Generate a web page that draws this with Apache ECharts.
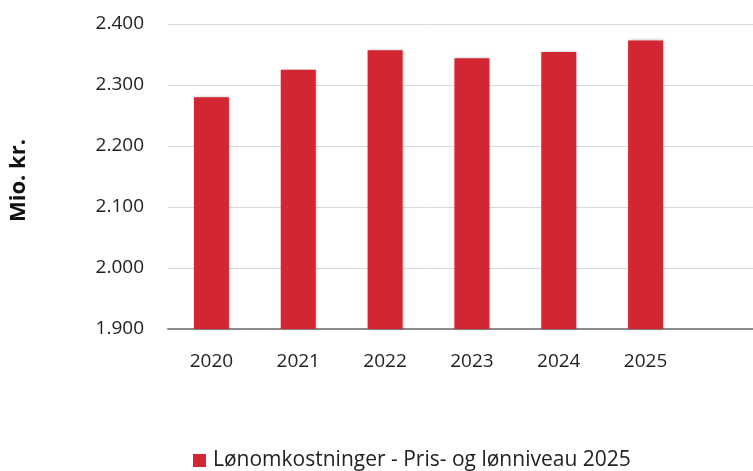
<!DOCTYPE html>
<html>
<head>
<meta charset="utf-8">
<script src="https://cdn.jsdelivr.net/npm/echarts@6/dist/echarts.min.js"></script>
<style>
  html, body { margin: 0; padding: 0; background: #fff; }
  #main { width: 753px; height: 471px; }
</style>
</head>
<body>
<div id="main"></div>
<script>
  var years = ['2020', '2021', '2022', '2023', '2024', '2025']
  var loenValues = [2280, 2325, 2357, 2344, 2354, 2373]
  var seriesName = 'Lønomkostninger - Pris- og lønniveau 2025'
  var yTitle = 'Mio. kr.'

  var fontFamily = '"Open Sans", "Noto Sans", sans-serif'

  function fmt(v) {
    return String(v).replace(/\B(?=(\d{3})+(?!\d))/g, '.')
  }

  var chart = echarts.init(document.getElementById('main'))

  var yCommon = {
    type: 'value',
    min: 1900,
    max: 2400,
    interval: 100,
    splitLine: { show: true, lineStyle: { color: '#d9d9d9', width: 1 } },
    axisLine: { show: false },
    axisTick: { show: false }
  }

  chart.setOption({
    animation: false,
    grid: [
      { left: 168, right: 64, top: 24, bottom: 142, outerBoundsMode: 'none' },
      { left: 689, right: 0, top: 24, bottom: 142, outerBoundsMode: 'none' }
    ],
    legend: {
      top: 450,
      left: 193,
      padding: 0,
      itemWidth: 13,
      itemHeight: 13,
      itemGap: 10,
      icon: 'rect',
      textStyle: { fontFamily: fontFamily, fontSize: 21, color: '#222', padding: [0, 0, 0, 2] },
      data: [seriesName]
    },
    xAxis: [
      {
        type: 'category',
        gridIndex: 0,
        data: years,
        axisLine: { lineStyle: { color: '#8c8c8c', width: 2 } },
        axisTick: { show: false },
        axisLabel: { margin: 23, fontFamily: fontFamily, fontSize: 19, color: '#222' }
      },
      {
        type: 'category',
        gridIndex: 1,
        data: [''],
        axisLine: { lineStyle: { color: '#8c8c8c', width: 2 } },
        axisTick: { show: false },
        axisLabel: { show: false }
      }
    ],
    yAxis: [
      Object.assign({}, yCommon, {
        gridIndex: 0,
        name: yTitle,
        nameLocation: 'middle',
        nameGap: 138,
        nameTextStyle: {
          fontFamily: fontFamily,
          fontSize: 22,
          fontWeight: 'bold',
          color: '#111',
          padding: [0, 8, 0, 0]
        },
        axisLabel: {
          margin: 24,
          fontFamily: fontFamily,
          fontSize: 19,
          color: '#222',
          formatter: fmt
        }
      }),
      Object.assign({}, yCommon, {
        gridIndex: 1,
        axisLabel: { show: false }
      })
    ],
    series: [
      {
        name: seriesName,
        type: 'bar',
        xAxisIndex: 0,
        yAxisIndex: 0,
        barWidth: 35,
        data: loenValues,
        itemStyle: {
          color: '#d22733',
          shadowColor: 'rgba(0,0,0,0.25)',
          shadowBlur: 3,
          shadowOffsetX: 1
        }
      }
    ]
  })
</script>
</body>
</html>
